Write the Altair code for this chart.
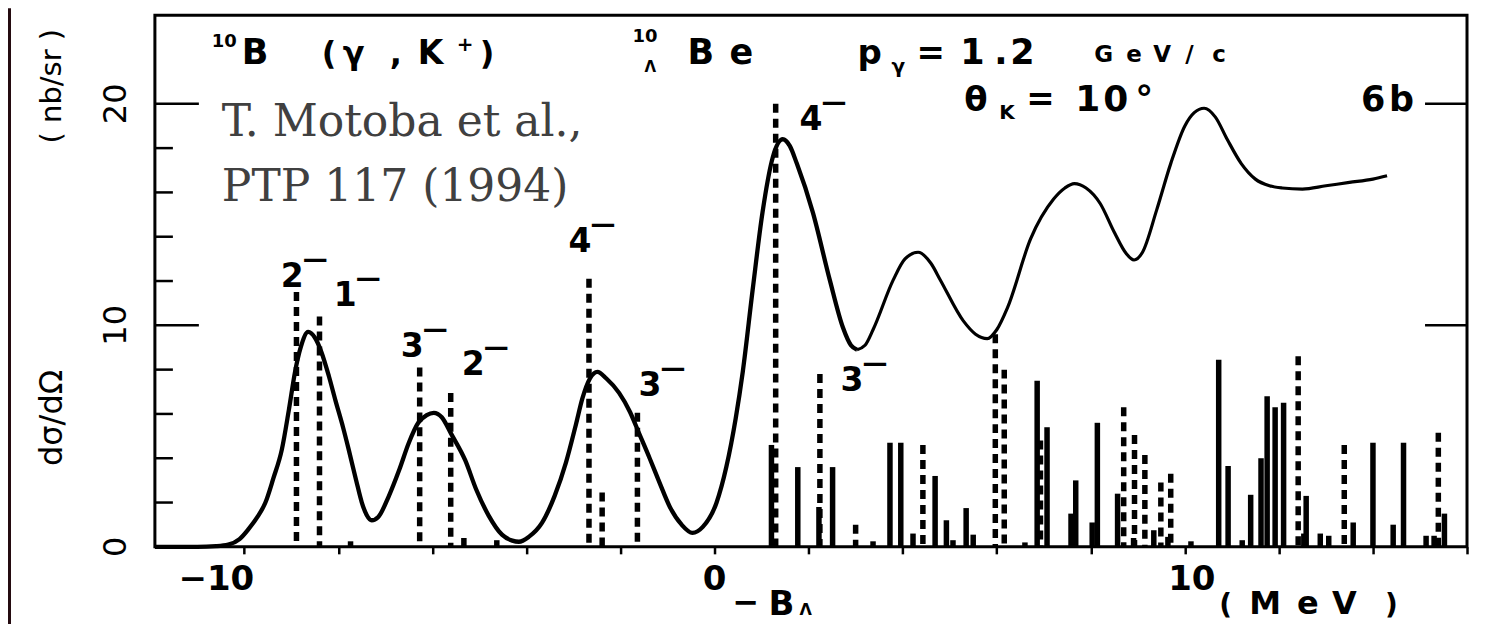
import altair as alt
import pandas as pd

# ---------------- data ----------------
curve_E = [-11.9, -11.0, -10.6, -10.34, -10.1, -9.91, -9.72, -9.55, -9.38, -9.2, -9.05, -8.92, -8.8,
           -8.64, -8.5, -8.36, -8.2, -8.06, -7.9, -7.78, -7.62, -7.5, -7.4, -7.29, -7.15, -6.93, -6.7,
           -6.5, -6.3, -6.12, -5.97, -5.8, -5.6, -5.3, -5.07, -4.8, -4.52, -4.3, -4.16, -3.95, -3.67,
           -3.4, -3.16, -2.95, -2.81, -2.65, -2.49, -2.3, -2.03, -1.8, -1.6, -1.38, -1.17, -0.95, -0.7,
           -0.47, -0.25, 0.04, 0.25, 0.45, 0.6, 0.81, 1.02, 1.24, 1.45, 1.6, 1.75, 2.09, 2.45, 2.73,
           2.9, 3.03, 3.2, 3.37, 3.8, 4.05, 4.33, 4.6, 4.8, 5.29, 5.55, 5.8, 6.0, 6.23, 6.72, 7.21,
           7.45, 7.65, 7.9, 8.2, 8.5, 8.75, 8.92, 9.1, 9.4, 9.7, 10.0, 10.2, 10.41, 10.65, 10.9, 11.2,
           11.5, 11.8, 12.07, 12.5, 13.0, 13.5, 14.0, 14.3]
curve_v = [0.0, 0.0, 0.03, 0.1, 0.35, 0.8, 1.35, 2.0, 3.1, 4.4, 6.2, 7.9, 9.0,
           9.7, 9.45, 8.8, 7.7, 6.6, 5.4, 4.4, 3.0, 2.0, 1.45, 1.2, 1.35, 2.27, 3.5,
           4.7, 5.6, 5.95, 6.05, 5.85, 5.1, 3.9, 2.6, 1.4, 0.55, 0.28, 0.23, 0.45, 1.08,
           2.3, 3.8, 5.5, 6.7, 7.6, 7.9, 7.6, 6.95, 6.1, 5.1, 4.0, 2.9, 1.8, 1.0,
           0.63, 0.9, 1.98, 3.6, 5.8, 7.9, 11.6, 15.1, 17.6, 18.4, 18.1, 17.3, 15.1, 12.05, 9.9,
           9.1, 8.9, 9.1, 9.8, 12.05, 13.0, 13.3, 12.8, 12.05, 10.2, 9.6, 9.4, 9.8, 10.8, 13.9, 15.7,
           16.2, 16.4, 16.2, 15.5, 14.2, 13.25, 12.95, 13.3, 15.2, 17.3, 19.0, 19.6, 19.8, 19.4, 18.4, 17.3,
           16.6, 16.3, 16.2, 16.15, 16.3, 16.45, 16.6, 16.75]

dashed_E = [-8.89, -8.40, -7.74, -6.27, -5.61, -5.33, -4.63, -2.67, -2.39, -1.64, 1.30, 2.24, 3.00,
            4.43, 5.97, 6.16, 6.93, 8.70, 8.93, 9.15, 9.49, 9.70, 10.13, 12.41, 13.39, 15.39]
dashed_h = [11.5, 10.4, 0.25, 8.1, 6.95, 0.4, 0.3, 12.1, 2.45, 6.05, 20.0, 7.8, 1.0,
            4.6, 9.6, 8.0, 4.8, 6.3, 5.05, 4.15, 2.9, 3.3, 0.25, 8.6, 4.6, 5.15]

solid_E = [1.21, 1.77, 2.22, 2.51, 3.37, 3.73, 3.96, 4.22, 4.69, 4.93, 5.07, 5.35, 5.50, 6.60,
           6.86, 7.07, 7.58, 7.68, 8.03, 8.14, 8.57, 8.91, 9.34, 9.64, 10.72, 10.92, 11.22, 11.40,
           11.62, 11.75, 11.92, 12.10, 12.53, 12.58, 12.88, 13.06, 13.58, 14.00, 14.43, 14.65,
           15.13, 15.30, 15.52]
solid_h = [4.6, 3.6, 1.8, 3.6, 0.25, 4.7, 4.7, 0.6, 3.2, 1.2, 0.3, 1.75, 0.55, 0.2,
           7.5, 5.4, 1.5, 3.0, 1.1, 5.6, 2.4, 0.4, 0.75, 0.45, 8.45, 3.65, 0.3, 2.35,
           4.0, 6.8, 6.3, 6.5, 0.6, 2.3, 0.6, 0.5, 1.1, 4.7, 1.0, 4.7,
           0.5, 0.5, 1.5]

spin_text = ["2", "1", "3", "2", "4", "3", "4", "3"]
x_tick_values = [-10, -8, -6, -4, -2, 0, 2, 4, 6, 8, 10, 12, 14, 16]
x_label_values = [-10, 0, 10]
x_label_text = ["\u221210", "0", "10"]
y_label_values = [20, 10, 0]
y_label_text = ["20", "10", "0"]
y_minor_ticks = [2, 4, 6, 8, 12, 14, 16, 18]
y_major_ticks = [10, 20]

# ---------------- layout ----------------
W, H = 1313, 532
XDOM = [-11.9, 16]
YDOM = [0, 24]
PAD_L, PAD_T = 147, 7
xs = alt.Scale(domain=XDOM, nice=False, zero=False)
ys = alt.Scale(domain=YDOM, nice=False, zero=False)


def ex(px):  # page pixel x -> data x
    return XDOM[0] + (px - 8 - PAD_L) / W * (XDOM[1] - XDOM[0])


def vy(py):  # page pixel y -> data y
    return YDOM[1] - (py - 8 - PAD_T) / H * (YDOM[1] - YDOM[0])


one = pd.DataFrame({"k": [0]})


def txt(s, px, py, size, weight="bold", font="DejaVu Sans", color="black",
        angle=0, align="left", baseline="alphabetic"):
    return alt.Chart(one).mark_text(
        text=s, fontSize=size, font=font, fontWeight=weight, color=color,
        angle=angle, align=align, baseline=baseline
    ).encode(x=alt.datum(ex(px)), y=alt.datum(vy(py)))


layers = []

# curve (drawn heavier on the left, lighter on the right as in the scan)
curve_src = alt.Chart(pd.DataFrame({"E": curve_E, "v": curve_v}))
x_enc = alt.X("E:Q", scale=xs, axis=alt.Axis(values=x_tick_values, labels=False, ticks=True,
                                             tickSize=7, tickWidth=2.5, tickColor="black",
                                             domain=False, grid=False, title=None))
curve_left = curve_src.transform_filter(alt.datum.E <= 3.03).mark_line(
    color="black", strokeWidth=4.3, interpolate="monotone"
).encode(x=x_enc, y=alt.Y("v:Q", scale=ys, axis=None))
curve_right = curve_src.transform_filter(alt.datum.E >= 3.03).mark_line(
    color="black", strokeWidth=3.2, interpolate="monotone"
).encode(x=alt.X("E:Q", scale=xs), y=alt.Y("v:Q", scale=ys))
layers += [curve_left, curve_right]

# level bars
solid = alt.Chart(pd.DataFrame({"E": solid_E, "h": solid_h})).mark_rule(
    color="black", strokeWidth=5.5
).encode(x=alt.X("E:Q", scale=xs), y=alt.Y("h:Q", scale=ys), y2=alt.datum(0))
dashed = alt.Chart(pd.DataFrame({"E": dashed_E, "h": dashed_h})).mark_rule(
    color="black", strokeWidth=5.5, strokeDash=[9, 6]
).encode(x=alt.X("E:Q", scale=xs), y=alt.Y("h:Q", scale=ys), y2=alt.datum(0))
layers += [solid, dashed]

# inward y ticks
minor = alt.Chart(pd.DataFrame({"v": y_minor_ticks})).mark_rule(color="black", strokeWidth=2.5).encode(
    y=alt.Y("v:Q", scale=ys), x=alt.value(0), x2=alt.value(18))
major_l = alt.Chart(pd.DataFrame({"v": y_major_ticks})).mark_rule(color="black", strokeWidth=2.5).encode(
    y=alt.Y("v:Q", scale=ys), x=alt.value(0), x2=alt.value(44))
major_r = alt.Chart(pd.DataFrame({"v": y_major_ticks})).mark_rule(color="black", strokeWidth=2.5).encode(
    y=alt.Y("v:Q", scale=ys), x=alt.value(W - 42), x2=alt.value(W))
layers += [minor, major_l, major_r]

# spin-parity labels (digit + superscript bar)
spin_px = [281, 334, 401, 462, 569, 639, 800, 841]
spin_py = [287, 306, 357, 375, 252, 396, 130, 391]
spin_df = pd.DataFrame({"t": spin_text, "E": [ex(p) for p in spin_px], "v": [vy(p) for p in spin_py]})
layers.append(alt.Chart(spin_df).mark_text(fontSize=33, font="DejaVu Sans", fontWeight="bold",
                                           align="left", baseline="alphabetic").encode(
    x=alt.X("E:Q", scale=xs), y=alt.Y("v:Q", scale=ys), text="t:N"))
layers.append(alt.Chart(spin_df).mark_text(text="\u2014", fontSize=25, font="DejaVu Sans",
                                           fontWeight="bold", align="left", baseline="alphabetic",
                                           dx=22, dy=-20).encode(
    x=alt.X("E:Q", scale=xs), y=alt.Y("v:Q", scale=ys)))

# header reaction text
hdr = [
    ("10", 212, 47, 18), ("B", 242, 64, 35), ("(", 322, 64, 32), ("\u03b3", 343, 64, 32),
    (",", 390, 64, 32), ("K", 418, 64, 33), ("+", 457, 51, 20), (")", 480, 64, 32),
    ("10", 633, 42, 18), ("\u039b", 645, 72, 15), ("B", 688, 64, 35), ("e", 730, 64, 35),
    ("p", 858, 64, 34), ("\u03b3", 892, 73, 20), ("=", 917, 64, 34), ("1", 961, 64, 35),
    (".", 995, 64, 35), ("2", 1011, 64, 35),
    ("G", 1095, 62, 23), ("e", 1127, 62, 23), ("V", 1154, 62, 23), ("/", 1186, 62, 23), ("c", 1213, 62, 23),
    ("\u03b8", 965, 111, 34), ("K", 1000, 119, 20), ("=", 1027, 110, 34),
    ("1", 1076, 111, 36), ("0", 1104, 111, 36), ("\u00b0", 1136, 111, 36),
    ("6", 1362, 111, 35), ("b", 1390, 111, 35),
]
for s, px, py, fs in hdr:
    layers.append(txt(s, px, py, fs))

# reference note
layers.append(txt("T. Motoba et al.,", 222, 136, 44, weight="normal", font="DejaVu Serif", color="#404040"))
layers.append(txt("PTP 117 (1994)", 222, 201, 44, weight="normal", font="DejaVu Serif", color="#404040"))

# y axis labels and title (rotated)
for t, val in zip(y_label_text, y_label_values):
    layers.append(alt.Chart(one).mark_text(text=t, fontSize=32, font="DejaVu Sans", angle=270,
                                           align="center", baseline="middle").encode(
        x=alt.datum(ex(116)), y=alt.datum(val)))
layers.append(txt("d\u03c3/d\u03a9", 52, 418, 32, weight="normal", angle=270, align="center", baseline="middle"))
layers.append(txt("( nb/sr )", 52, 86, 29, weight="normal", angle=270, align="center", baseline="middle"))

# x axis labels and title
x_label_dx = [-28, 0, 7]
for t, val, d in zip(x_label_text, x_label_values, x_label_dx):
    layers.append(alt.Chart(one).mark_text(text=t, fontSize=34, font="DejaVu Sans", fontWeight="bold",
                                           align="center", baseline="alphabetic", dx=d).encode(
        x=alt.datum(val), y=alt.datum(vy(590))))
layers.append(txt("\u2212", 733, 613, 32))
layers.append(txt("B", 769, 615, 34))
layers.append(txt("\u039b", 800, 615, 16))
layers.append(txt("(", 1220, 614, 28))
layers.append(txt("M", 1250, 614, 32))
layers.append(txt("e", 1298, 614, 32))
layers.append(txt("V", 1333, 614, 32))
layers.append(txt(")", 1386, 614, 28))

# dark strip at the left edge of the slide
layers.append(alt.Chart(one).mark_rect(color="#240b10").encode(
    x=alt.value(-PAD_L), x2=alt.value(-PAD_L + 3), y=alt.value(-PAD_T), y2=alt.value(H + 80)))

chart = alt.layer(*layers).properties(
    width=W, height=H,
    padding={"left": PAD_L, "top": PAD_T, "right": 14, "bottom": 77},
    autosize=alt.AutoSizeParams(type="none"),
    background="white",
).configure_view(stroke="black", strokeWidth=3)

chart.save("out.html", embed_options={"renderer": "svg", "actions": False})
